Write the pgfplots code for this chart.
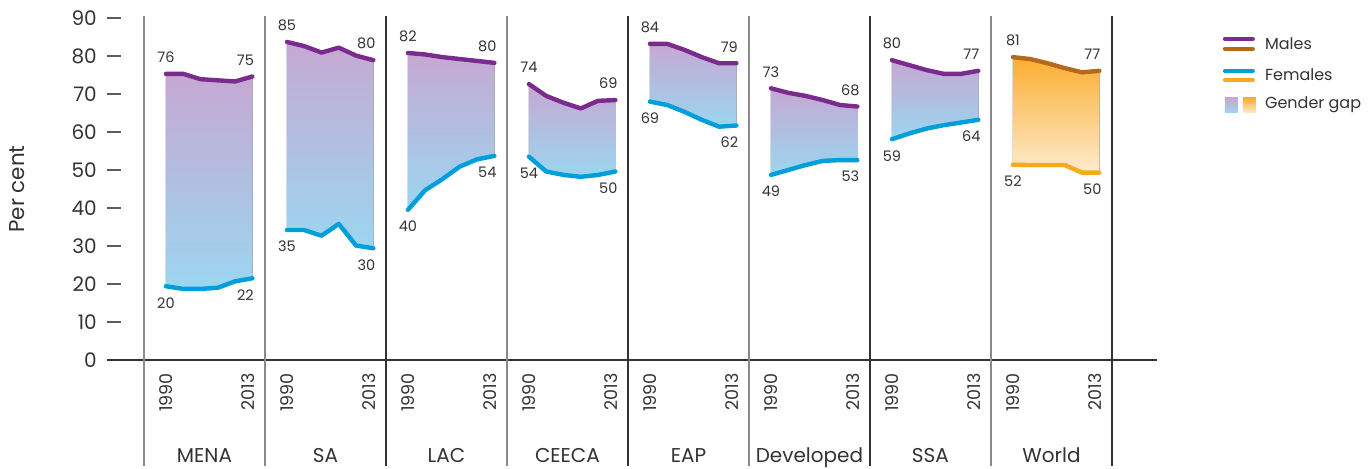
\documentclass[border=0pt]{standalone}
\usepackage{pgfplots}
\pgfplotsset{compat=1.18}
\usepgfplotslibrary{fillbetween}
\usepackage{pgfplotstable}
\usepackage{fontspec}
\setmainfont{Poppins}

\definecolor{male}{HTML}{7B2A8E}
\definecolor{female}{HTML}{009FDC}
\definecolor{wmale}{HTML}{B5691A}
\definecolor{wfemale}{HTML}{F8A91C}
\definecolor{gaptop}{HTML}{C6A8D2}
\definecolor{gapbot}{HTML}{9BD6F0}
\definecolor{wgaptop}{HTML}{FBAE30}
\definecolor{wgapbot}{HTML}{FEEBCF}
\definecolor{txt}{HTML}{333333}
\definecolor{sepgray}{HTML}{8A8A8A}

% i = point (1990 ... 2013), m / f = males / females (per cent), ml / fl = printed end values
\pgfplotstableread{
i m    f    ml fl
0 75.3 19.4 76 20
1 75.3 18.7 -  -
2 73.9 18.7 -  -
3 73.6 19.0 -  -
4 73.3 20.7 -  -
5 74.6 21.5 75 22
}\mena
\pgfplotstableread{
i m    f    ml fl
0 83.7 34.2 85 35
1 82.6 34.2 -  -
2 80.9 32.7 -  -
3 82.2 35.8 -  -
4 80.1 30.1 -  -
5 78.9 29.4 80 30
}\sa
\pgfplotstableread{
i m    f    ml fl
0 80.8 39.5 82 40
1 80.4 44.7 -  -
2 79.7 47.6 -  -
3 79.2 50.9 -  -
4 78.7 52.8 -  -
5 78.2 53.7 80 54
}\lac
\pgfplotstableread{
i m    f    ml fl
0 72.6 53.5 74 54
1 69.5 49.6 -  -
2 67.7 48.7 -  -
3 66.2 48.2 -  -
4 68.2 48.7 -  -
5 68.4 49.6 69 50
}\ceeca
\pgfplotstableread{
i m    f    ml fl
0 83.2 68.0 84 69
1 83.2 67.1 -  -
2 81.6 65.3 -  -
3 79.7 63.2 -  -
4 78.1 61.4 -  -
5 78.1 61.7 79 62
}\eap
\pgfplotstableread{
i m    f    ml fl
0 71.5 48.7 73 49
1 70.3 50.0 -  -
2 69.5 51.3 -  -
3 68.4 52.4 -  -
4 67.1 52.6 -  -
5 66.7 52.6 68 53
}\developed
\pgfplotstableread{
i m    f    ml fl
0 78.9 58.1 80 59
1 77.6 59.6 -  -
2 76.3 60.9 -  -
3 75.3 61.8 -  -
4 75.3 62.5 -  -
5 76.1 63.2 77 64
}\ssa
\pgfplotstableread{
i m    f    ml fl
0 79.7 51.4 81 52
1 79.2 51.3 -  -
2 78.1 51.3 -  -
3 76.8 51.3 -  -
4 75.7 49.3 -  -
5 76.1 49.3 77 50
}\world

\pgfplotsset{
  gapline/.style={line width=4.4pt, line cap=round, line join=round},
  lab/.style={draw=none, nodes near coords, point meta=explicit symbolic,
    every node near coord/.append style={font=\fontsize{14.5}{16}\selectfont, text=txt, inner sep=0pt}},
  lab above/.style={every node near coord/.append style={anchor=south, yshift=11pt}},
  lab below/.style={every node near coord/.append style={anchor=north, yshift=-11pt}},
  lab end/.style={every node near coord/.append style={xshift=-7pt}},
}

% #1 panel index, #2 table, #3 male colour, #4 female colour, #5/#6 gap shading top/bottom
\newcommand{\panel}[6]{%
  \addplot[draw=none, name path=m#1] table[x expr=\thisrow{i}+7*#1+1.27, y=m] {#2};
  \addplot[draw=none, name path=f#1] table[x expr=\thisrow{i}+7*#1+1.27, y=f] {#2};
  \addplot[draw=none, top color=#5, bottom color=#6] fill between[of=m#1 and f#1];
  \addplot[gapline, #3] table[x expr=\thisrow{i}+7*#1+1.27, y=m] {#2};
  \addplot[gapline, #4] table[x expr=\thisrow{i}+7*#1+1.27, y=f] {#2};
  \addplot[lab, lab above, skip coords between index={1}{6}] table[x expr=\thisrow{i}+7*#1+1.27, y=m, meta=ml] {#2};
  \addplot[lab, lab above, lab end, skip coords between index={0}{5}] table[x expr=\thisrow{i}+7*#1+1.27, y=m, meta=ml] {#2};
  \addplot[lab, lab below, skip coords between index={1}{6}] table[x expr=\thisrow{i}+7*#1+1.27, y=f, meta=fl] {#2};
  \addplot[lab, lab below, lab end, skip coords between index={0}{5}] table[x expr=\thisrow{i}+7*#1+1.27, y=f, meta=fl] {#2};
}

% region name and its two year labels; #1 panel centre, #2 name
\newcommand{\region}[2]{%
  \node[anchor=base, font=\fontsize{20}{22}\selectfont, text=txt, inner sep=0pt] at (axis cs:#1,-27.1) {#2};
  \node[rotate=90, anchor=east, inner sep=0pt, font=\fontsize{17.5}{20}\selectfont, text=txt]
    at ([yshift=-13pt]axis cs:#1-2.23,0) {1990};
  \node[rotate=90, anchor=east, inner sep=0pt, font=\fontsize{17.5}{20}\selectfont, text=txt]
    at ([yshift=-13pt]axis cs:#1+2.5,0) {2013};}

\begin{document}
\begin{tikzpicture}
\begin{axis}[
    scale only axis,
    width=1050pt, height=342pt,
    xmin=-2.14, xmax=58.6,
    ymin=0, ymax=90,
    clip=false,
    axis x line*=bottom, axis y line*=left,
    x axis line style={line width=2.5pt, draw=txt, -},
    y axis line style={draw=none},
    ytick={0,10,...,90},
    ytick align=inside,
    major tick length=14pt,
    ytick style={draw=txt!80, line width=1.2pt},
    yticklabel style={font=\fontsize{20}{24}\selectfont, text=txt, inner sep=0pt, xshift=-10pt},
    /pgf/number format/assume math mode=true,
    xtick=\empty,
]
% picture frame
\path (axis cs:-8.33,94.74) rectangle (axis cs:70.93,-27.9);
% panel separators
\draw[sepgray, line width=1.3pt] (axis cs:0,90.5) -- (axis cs:0,-27.9);
\draw[sepgray, line width=1.3pt] (axis cs:7,90.5) -- (axis cs:7,-27.9);
\draw[txt, line width=1.1pt] (axis cs:14,90.5) -- (axis cs:14,-27.9);
\draw[sepgray, line width=1.3pt] (axis cs:21,90.5) -- (axis cs:21,-27.9);
\draw[txt, line width=1.1pt] (axis cs:28,90.5) -- (axis cs:28,-27.9);
\draw[sepgray, line width=1.3pt] (axis cs:35,90.5) -- (axis cs:35,-27.9);
\draw[txt, line width=1.1pt] (axis cs:42,90.5) -- (axis cs:42,-27.9);
\draw[sepgray, line width=1.3pt] (axis cs:49,90.5) -- (axis cs:49,-27.9);
\draw[txt, line width=1.1pt] (axis cs:56,90.5) -- (axis cs:56,-27.9);

\panel{0}{\mena}{male}{female}{gaptop}{gapbot}
\panel{1}{\sa}{male}{female}{gaptop}{gapbot}
\panel{2}{\lac}{male}{female}{gaptop}{gapbot}
\panel{3}{\ceeca}{male}{female}{gaptop}{gapbot}
\panel{4}{\eap}{male}{female}{gaptop}{gapbot}
\panel{5}{\developed}{male}{female}{gaptop}{gapbot}
\panel{6}{\ssa}{male}{female}{gaptop}{gapbot}
\panel{7}{\world}{wmale}{wfemale}{wgaptop}{wgapbot}

\region{3.5}{MENA}
\region{10.5}{SA}
\region{17.5}{LAC}
\region{24.5}{CEECA}
\region{31.5}{EAP}
\region{38.5}{Developed}
\region{45.5}{SSA}
\region{52.5}{World}

\node[rotate=90, font=\fontsize{21.5}{24}\selectfont, text=txt] at ([xshift=-90pt]rel axis cs:0,0.5) {Per cent};
\coordinate (NE) at (rel axis cs:1,1);
\end{axis}

% legend
\begin{scope}[shift={(NE)}]
  \draw[male, line width=4pt, line cap=round] (68pt,-21pt) -- (96pt,-21pt);
  \draw[wmale, line width=4pt, line cap=round] (68pt,-31pt) -- (96pt,-31pt);
  \node[anchor=west, inner sep=0pt, font=\fontsize{16}{19}\selectfont, text=txt] at (108pt,-26pt) {Males};
  \draw[female, line width=4pt, line cap=round] (68pt,-53pt) -- (96pt,-53pt);
  \draw[wfemale, line width=4pt, line cap=round] (68pt,-62pt) -- (96pt,-62pt);
  \node[anchor=west, inner sep=0pt, font=\fontsize{16}{19}\selectfont, text=txt] at (108pt,-57pt) {Females};
  \shade[top color=gaptop, bottom color=gapbot] (68pt,-80pt) rectangle (81pt,-95pt);
  \shade[top color=wgaptop, bottom color=wgapbot] (86pt,-80pt) rectangle (99pt,-95pt);
  \node[anchor=west, inner sep=0pt, font=\fontsize{16}{19}\selectfont, text=txt] at (108pt,-87pt) {Gender gap};
\end{scope}
\end{tikzpicture}
\end{document}
